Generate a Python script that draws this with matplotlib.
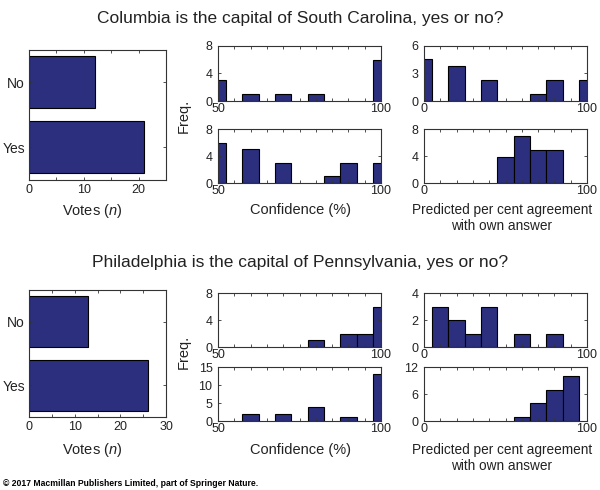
import matplotlib
matplotlib.use("Agg")
import matplotlib.pyplot as plt
import numpy as np

plt.rcParams['font.family'] = ['Liberation Sans', 'DejaVu Sans']
plt.rcParams['mathtext.fontset'] = 'custom'
plt.rcParams['mathtext.it'] = 'Liberation Sans:italic'
plt.rcParams['mathtext.rm'] = 'Liberation Sans'

NAVY = '#2b2f7e'
TXT = '#222222'

# ---- data ----
answers = ['Yes', 'No']
col_votes = [21, 12]
phi_votes = [26, 13]

# confidence histograms (bin centre, frequency), bin width 5
col_conf_no_x = [50, 60, 70, 80, 100]
col_conf_no_y = [3, 1, 1, 1, 6]
col_conf_yes_x = [50, 60, 70, 85, 90, 100]
col_conf_yes_y = [6, 5, 3, 1, 3, 3]
phi_conf_no_x = [80, 90, 95, 100]
phi_conf_no_y = [1, 2, 2, 6]
phi_conf_yes_x = [60, 70, 80, 90, 100]
phi_conf_yes_y = [2, 2, 4, 1, 13]

# predicted agreement histograms, bin width 10
col_pred_no_x = [0, 20, 40, 70, 80, 100]
col_pred_no_y = [4.6, 3.85, 2.3, 0.77, 2.3, 2.3]
col_pred_yes_x = [50, 60, 70, 80]
col_pred_yes_y = [3.85, 6.9, 4.85, 4.85]
phi_pred_no_x = [10, 20, 30, 40, 60, 80]
phi_pred_no_y = [3, 2, 1, 3, 1, 1]
phi_pred_yes_x = [60, 70, 80, 90]
phi_pred_yes_y = [1, 4, 7, 10]

W, H = 600, 490
fig = plt.figure(figsize=(W / 100, H / 100), dpi=100)


def box(l, t, r, b):
    return fig.add_axes([l / W, 1 - b / H, (r - l) / W, (b - t) / H])


def style(ax):
    for s in ax.spines.values():
        s.set_color('#333333')
        s.set_linewidth(0.8)
    ax.tick_params(which='both', direction='in', top=True, right=True,
                   length=2.5, width=0.6, colors='#333333',
                   labelsize=9, labelcolor=TXT, pad=3)


def votes_panel(ax, vals, xmax, xticks, minor):
    ax.barh([1, 2], vals, height=0.8, color=NAVY, edgecolor='black', linewidth=0.8)
    ax.set_ylim(0.5, 2.5)
    ax.set_xlim(0, xmax)
    ax.set_yticks([1, 2])
    ax.set_xticks(xticks)
    ax.set_xticks(minor, minor=True)
    style(ax)
    ax.set_yticklabels(answers, fontsize=10)


def hist_panel(ax, xs, ys, width, xlim, xticks, yticks):
    ax.bar(xs, ys, width=width, color=NAVY, edgecolor='black', linewidth=0.8)
    ax.set_xlim(*xlim)
    ax.set_ylim(yticks[0], yticks[-1])
    ax.set_yticks(yticks)
    ax.set_xticks(xticks)
    ax.set_xticklabels([str(t) if t in xlim else '' for t in xticks])
    style(ax)
    ax.tick_params(axis='x', pad=1.5)
    ax.tick_params(axis='y', pad=4)


conf_ticks = list(range(50, 101, 5))
pred_ticks = list(range(0, 101, 10))
LAB = 10.5
PRED = 9.8

# ---------------- Columbia ----------------
fig.text(0.5, 1 - 18 / H, 'Columbia is the capital of South Carolina, yes or no?',
         ha='center', va='center', fontsize=12.5, color=TXT)
ax = box(29, 50, 166, 180)
votes_panel(ax, col_votes, 25, [0, 10, 20], [5, 15, 25])
hist_panel(box(218, 46, 381, 101), col_conf_no_x, col_conf_no_y, 5, (50, 100), conf_ticks, [0, 4, 8])
hist_panel(box(218, 129, 381, 183), col_conf_yes_x, col_conf_yes_y, 5, (50, 100), conf_ticks, [0, 4, 8])
hist_panel(box(424, 46, 587, 101), col_pred_no_x, col_pred_no_y, 10, (0, 100), pred_ticks, [0, 3, 6])
hist_panel(box(424, 129, 587, 183), col_pred_yes_x, col_pred_yes_y, 10, (0, 100), pred_ticks, [0, 4, 8])

fig.text(92 / W, 1 - 211 / H, 'Votes ($n$)', ha='center', va='center', fontsize=LAB, color=TXT)
fig.text(184 / W, 1 - 116 / H, 'Freq.', ha='center', va='center', rotation=90, fontsize=LAB, color=TXT)
fig.text(300 / W, 1 - 210 / H, 'Confidence (%)', ha='center', va='center', fontsize=LAB, color=TXT)
fig.text(502 / W, 1 - 218 / H, 'Predicted per cent agreement\nwith own answer', ha='center',
         va='center', fontsize=PRED, color=TXT, linespacing=1.2)

# ---------------- Philadelphia ----------------
fig.text(0.5, 1 - 262 / H, 'Philadelphia is the capital of Pennsylvania, yes or no?',
         ha='center', va='center', fontsize=12.5, color=TXT)
ax = box(29, 290, 166, 417)
votes_panel(ax, phi_votes, 30, [0, 10, 20, 30], [5, 15, 25])
hist_panel(box(218, 293, 381, 347), phi_conf_no_x, phi_conf_no_y, 5, (50, 100), conf_ticks, [0, 4, 8])
hist_panel(box(218, 367, 381, 421), phi_conf_yes_x, phi_conf_yes_y, 5, (50, 100), conf_ticks, [0, 5, 10, 15])
hist_panel(box(424, 293, 587, 347), phi_pred_no_x, phi_pred_no_y, 10, (0, 100), pred_ticks, [0, 2, 4])
hist_panel(box(424, 367, 587, 421), phi_pred_yes_x, phi_pred_yes_y, 10, (0, 100), pred_ticks, [0, 6, 12])

fig.text(92 / W, 1 - 450 / H, 'Votes ($n$)', ha='center', va='center', fontsize=LAB, color=TXT)
fig.text(184 / W, 1 - 352 / H, 'Freq.', ha='center', va='center', rotation=90, fontsize=LAB, color=TXT)
fig.text(300 / W, 1 - 450 / H, 'Confidence (%)', ha='center', va='center', fontsize=LAB, color=TXT)
fig.text(502 / W, 1 - 458 / H, 'Predicted per cent agreement\nwith own answer', ha='center',
         va='center', fontsize=PRED, color=TXT, linespacing=1.2)

fig.text(3 / W, 1 - 483 / H, '\u00a9 2017 Macmillan Publishers Limited, part of Springer Nature.',
         ha='left', va='center', fontsize=6.2, fontweight='bold', color='black')

fig.savefig('out.png', dpi=100)
